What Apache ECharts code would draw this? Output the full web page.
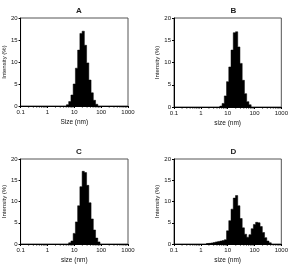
<!DOCTYPE html>
<html><head><meta charset="utf-8">
<script src="https://cdn.jsdelivr.net/npm/echarts@6/dist/echarts.min.js"></script>
<style>html,body{margin:0;padding:0;background:#fff}#c{width:291px;height:265px}</style>
</head><body><div id="c"></div>
<script>
// Bin centre sizes (nm), 12 bins per decade, from 1 nm to 1000 nm
const binSizes = [1, 1.2115, 1.4678, 1.7783, 2.1544, 2.6102, 3.1623, 3.8312, 4.6416, 5.6234,
  6.8129, 8.2540, 10, 12.115, 14.678, 17.783, 21.544, 26.102, 31.623, 38.312,
  46.416, 56.234, 68.129, 82.540, 100, 121.15, 146.78, 177.83, 215.44, 261.02,
  316.23, 383.12, 464.16, 562.34, 681.29, 825.40, 1000];
// Intensity (%) per bin
const intensityA = [0,0,0,0,0,0,0,0,0,0.3, 1.0,2.5,5.0,8.6,12.7,16.5,17.0,13.8,9.8,5.9, 3.0,1.3,0.4,0,0,0,0,0,0,0, 0,0,0,0,0,0,0];
const intensityB = [0,0,0,0,0,0,0,0,0,0.2, 0.8,2.5,5.7,9.0,12.8,16.7,16.9,13.5,9.8,6.0, 3.0,1.2,0.5,0,0,0,0,0,0,0, 0,0,0,0,0,0,0];
const intensityC = [0,0,0,0,0,0,0,0,0,0, 0.3,0.7,2.5,5.2,9.0,13.5,17.1,16.8,13.8,9.7, 5.9,3.3,1.4,0.5,0,0,0,0,0,0, 0,0,0,0,0,0,0];
const intensityD = [0,0,0,0.1,0.15,0.25,0.35,0.5,0.6,0.7, 0.8,1.0,3.1,5.5,8.2,10.8,11.4,9.0,6.0,3.8, 2.3,1.6,2.2,3.6,4.6,5.1,5.0,4.1,2.7,1.5, 0.7,0.3,0,0,0,0,0];
const panelTitles = ['A', 'B', 'C', 'D'];
const xAxisNames = ['Size (nm)', 'size (nm)', 'size (nm)', 'size (nm)'];
const yAxisName = 'Intensity (%)';
const yTicks = [0, 5, 10, 15, 20];
const xTickLabels = ['0.1', '1', '10', '100', '1000'];
const minorTickValues = [0.2,0.3,0.4,0.5,0.6,0.7,0.8,0.9, 2,3,4,5,6,7,8,9, 20,30,40,50,60,70,80,90, 200,300,400,500,600,700,800,900];

const allData = [intensityA, intensityB, intensityC, intensityD];
const grids = [
  {left: 20, top: 18, width: 108, height: 88},
  {left: 174, top: 18, width: 109, height: 89},
  {left: 20, top: 159, width: 108, height: 89},
  {left: 174, top: 159, width: 109, height: 88}
];
const FONT = 'Liberation Sans, Arial, sans-serif';

// bin edges as geometric midpoints between neighbouring bin centres
function binEdges(i) {
  const c = binSizes[i];
  const prev = i > 0 ? binSizes[i - 1] : c * c / binSizes[i + 1];
  const next = i < binSizes.length - 1 ? binSizes[i + 1] : c * c / binSizes[i - 1];
  return [Math.sqrt(prev * c), Math.sqrt(c * next)];
}

const option = {
  animation: false,
  backgroundColor: '#fff',
  title: grids.map((g, i) => ({
    text: panelTitles[i],
    left: g.left + g.width / 2, top: i < 2 ? 2 : 143, textAlign: 'center',
    textStyle: {fontFamily: FONT, fontSize: 8, fontWeight: 'bold', color: '#222'}
  })),
  grid: grids.map(g => Object.assign({show: true, borderColor: '#555', borderWidth: 1, backgroundColor: 'transparent'}, g)),
  xAxis: grids.map((g, i) => ({
    gridIndex: i, type: 'log', logBase: 10, min: 0.1, max: 1000,
    name: xAxisNames[i], nameLocation: 'middle', nameGap: 13,
    nameTextStyle: {fontFamily: FONT, fontSize: 6.5, color: '#111'},
    axisLine: {lineStyle: {color: '#000', width: 1}},
    axisTick: {show: true, length: 2, lineStyle: {color: '#000'}},
    axisLabel: {fontFamily: FONT, fontSize: 6, color: '#111', margin: 3,
      formatter: v => { const s = String(+(+v).toPrecision(3)); return xTickLabels.indexOf(s) >= 0 ? s : ''; }},
    splitLine: {show: false}, minorTick: {show: false}
  })),
  yAxis: grids.map((g, i) => ({
    gridIndex: i, type: 'value', min: yTicks[0], max: yTicks[yTicks.length - 1], interval: 5,
    name: yAxisName, nameLocation: 'middle', nameGap: 11, nameRotate: 90,
    nameTextStyle: {fontFamily: FONT, fontSize: 6, color: '#111'},
    axisLine: {show: true, lineStyle: {color: '#000', width: 1}},
    axisTick: {show: true, length: 2, lineStyle: {color: '#000'}},
    axisLabel: {fontFamily: FONT, fontSize: 6, color: '#111', margin: 3},
    splitLine: {show: false}
  })),
  series: []
};

allData.forEach((vals, gi) => {
  // one solid stepped polygon per panel, built through the axis scales
  option.series.push({
    type: 'custom', xAxisIndex: gi, yAxisIndex: gi, clip: true, silent: true,
    data: [[0]],
    renderItem: (params, api) => {
      const points = [];
      let started = false, lastEdge = null;
      vals.forEach((v, i) => {
        if (v <= 0) return;
        const e = binEdges(i);
        if (!started) { points.push(api.coord([e[0], 0])); started = true; }
        points.push(api.coord([e[0], v]));
        points.push(api.coord([e[1], v]));
        lastEdge = e[1];
      });
      points.push(api.coord([lastEdge, 0]));
      return {type: 'polygon', shape: {points: points},
        style: {fill: '#000', stroke: '#000', lineWidth: 0.5}};
    }
  });
  option.series.push({
    type: 'custom', xAxisIndex: gi, yAxisIndex: gi, clip: false, silent: true,
    data: minorTickValues.map(v => [v, 0]),
    renderItem: (params, api) => {
      const p = api.coord([api.value(0), 0]);
      return {type: 'line', shape: {x1: p[0], y1: p[1], x2: p[0], y2: p[1] + 1.5},
        style: {stroke: '#000', lineWidth: 1}};
    }
  });
});

const chart = echarts.init(document.getElementById('c'), null, {renderer: 'canvas'});
chart.setOption(option);
</script></body></html>
